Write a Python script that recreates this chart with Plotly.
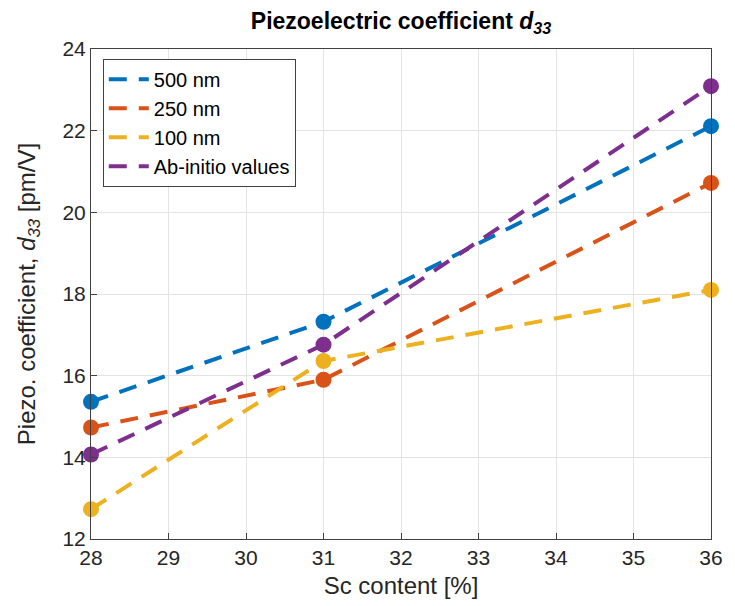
import plotly.graph_objects as go

sc_content = [28, 31, 36]
d33_500nm = [15.36, 17.32, 22.11]
d33_250nm = [14.73, 15.90, 20.72]
d33_100nm = [12.73, 16.36, 18.10]
d33_abinitio = [14.07, 16.76, 23.09]

series = [
    ("500 nm", d33_500nm, "#0072BD"),
    ("250 nm", d33_250nm, "#D95319"),
    ("100 nm", d33_100nm, "#EDB120"),
    ("Ab-initio values", d33_abinitio, "#7E2F8E"),
]

x_ticks = [28, 29, 30, 31, 32, 33, 34, 35, 36]
y_ticks = [12, 14, 16, 18, 20, 22, 24]

FONT = "Liberation Sans, Arial, Helvetica, sans-serif"

fig = go.Figure()
for name, vals, col in series:
    fig.add_trace(go.Scatter(
        x=sc_content, y=vals, name=name, mode="lines",
        line=dict(color=col, width=4, dash="18px,12px"),
        legendgroup=name, cliponaxis=False,
    ))
    fig.add_trace(go.Scatter(
        x=sc_content, y=vals, name=name, mode="markers",
        marker=dict(color=col, size=16, symbol="circle"),
        legendgroup=name, showlegend=False, cliponaxis=False,
    ))

axis_common = dict(
    showline=True, linecolor="#404040", linewidth=1, mirror=True,
    showgrid=True, gridcolor="#e3e3e3", gridwidth=1,
    ticks="inside", ticklen=6, tickcolor="#404040",
    tickfont=dict(family=FONT, size=21, color="#262626"),
    zeroline=False,
)

fig.update_layout(
    width=735, height=606,
    margin=dict(l=91, r=17, t=49, b=66),
    paper_bgcolor="white", plot_bgcolor="white",
    font=dict(family=FONT, color="#262626"),
    title=dict(
        text="<b>Piezoelectric coefficient <i>d</i><sub><i>33</i></sub></b>",
        x=0.5, xanchor="center", xref="paper", y=0.965, yanchor="middle",
        font=dict(family=FONT, size=23, color="black"),
    ),
    xaxis=dict(
        range=[28, 36], tickvals=x_ticks,
        title=dict(text="Sc content [%]", font=dict(family=FONT, size=24, color="#262626"), standoff=8),
        **axis_common,
    ),
    yaxis=dict(
        range=[12, 24], tickvals=y_ticks,
        title=dict(text="Piezo. coefficient, <i>d</i><sub><i>33</i></sub> [pm/V]", font=dict(family=FONT, size=24, color="#262626"), standoff=20),
        **axis_common,
    ),
    legend=dict(
        x=0.019, y=0.98, xanchor="left", yanchor="top",
        bgcolor="white", bordercolor="#404040", borderwidth=1,
        font=dict(family=FONT, size=20, color="black"),
        tracegroupgap=0, itemwidth=40,
    ),
    showlegend=True,
)

fig.write_html("out.html")
